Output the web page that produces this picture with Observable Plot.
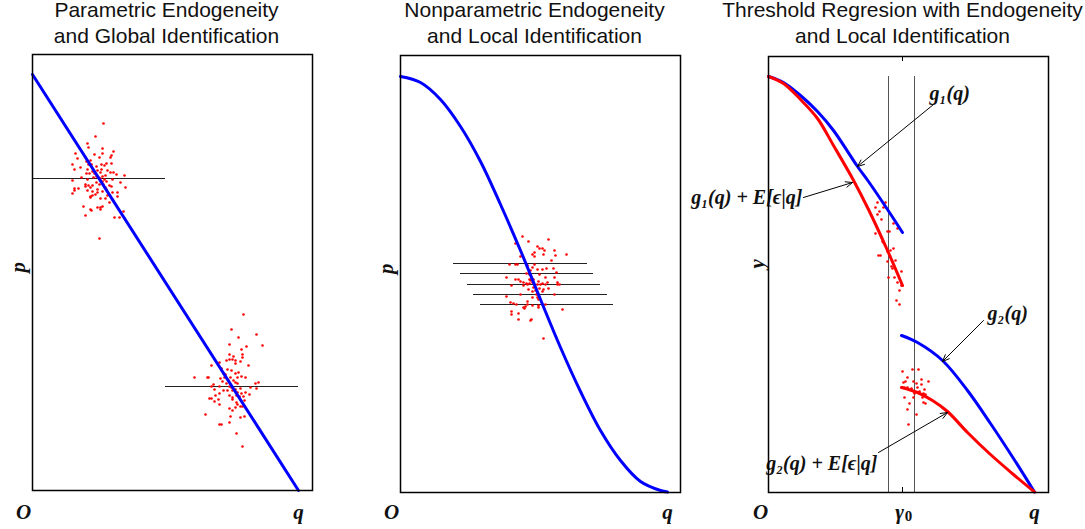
<!DOCTYPE html>
<html><head><meta charset="utf-8">
<script src="https://cdn.jsdelivr.net/npm/d3@7"></script>
<script src="https://cdn.jsdelivr.net/npm/@observablehq/plot@0.6"></script>
<style>
body{margin:0;background:#fff;}
#wrap{display:flex;width:1085px;height:529px;}
#wrap svg{flex:none;}
</style></head><body><div id="wrap"></div>
<script>
// ---------- titles ----------
const titles = [
  "Parametric Endogeneity\nand Global Identification",
  "Nonparametric Endogeneity\nand Local Identification",
  "Threshold Regresion with Endogeneity\nand Local Identification"
];
const yLabels = ["p", "p", "y"];

// ---------- panel 1 ----------
const p1LineQ = [0, 26.6];
const p1LineP = [41.6, 0];
const p1Rules = [{p: 31.2, q1: 0, q2: 13.3}, {p: 10.4, q1: 13.3, q2: 26.6}];
const p1Cluster1 = [[7.1,36.7],[6.3,35.4],[5.5,34.7],[5.6,34.3],[7.0,34.2],[4.3,33.7],[8.1,33.9],[6.2,33.6],[7.0,33.7],[7.9,33.5],[5.3,33.3],[4.5,33.2],[6.7,33.3],[5.4,32.9],[5.8,33.0],[7.8,33.3],[4.0,32.6],[5.6,32.6],[5.9,32.6],[6.9,32.6],[7.4,32.7],[7.9,32.7],[6.4,32.4],[4.8,32.3],[4.2,32.1],[5.5,32.1],[6.9,32.1],[7.2,32.5],[6.0,31.9],[6.5,32.0],[7.5,32.0],[5.4,31.7],[5.7,31.7],[6.2,31.7],[6.8,31.8],[7.8,31.8],[8.1,31.8],[8.4,31.6],[9.2,31.5],[4.9,31.3],[6.1,31.3],[6.4,31.4],[7.0,31.4],[7.3,31.5],[5.5,31.1],[6.6,31.3],[6.8,31.2],[7.2,31.1],[8.0,31.1],[4.0,31.0],[6.4,30.8],[7.0,30.9],[7.4,30.9],[8.8,30.8],[5.3,30.6],[5.6,30.5],[6.0,30.5],[6.7,30.6],[7.1,30.6],[7.7,30.5],[5.3,30.4],[5.8,30.3],[7.3,30.3],[7.9,30.4],[9.3,30.3],[4.2,30.2],[4.6,30.2],[6.5,30.1],[7.4,30.1],[4.2,30.0],[5.5,30.0],[6.0,29.9],[6.5,29.8],[7.0,29.9],[8.0,29.8],[8.5,29.8],[4.0,29.7],[6.0,29.5],[6.3,29.6],[5.8,29.4],[5.8,29.3],[7.5,29.5],[8.5,29.4],[6.8,29.2],[7.3,29.2],[8.0,29.1],[7.7,28.8],[5.1,28.4],[6.5,28.3],[6.8,28.3],[7.0,28.4],[5.8,28.1],[5.9,28.0],[6.8,28.1],[9.1,27.9],[5.3,27.5],[8.2,27.3],[8.7,27.3],[6.7,25.2]];
const p1Cluster2 = [[21.1,17.6],[19.9,16.1],[22.4,15.6],[20.6,15.3],[19.7,14.6],[21.4,14.4],[23.0,14.5],[20.9,14.1],[19.7,13.6],[20.1,13.4],[21.0,13.6],[21.0,13.3],[19.4,13.0],[19.7,13.1],[20.0,13.1],[20.3,13.0],[20.8,12.9],[18.7,12.8],[20.3,12.7],[21.6,12.5],[17.9,12.5],[18.9,12.2],[19.5,12.1],[19.9,12.0],[20.6,11.8],[20.3,11.7],[19.1,11.7],[19.3,11.6],[16.2,11.3],[17.5,11.3],[17.6,11.3],[18.8,11.2],[19.2,11.3],[19.8,11.3],[20.5,11.3],[20.9,11.4],[21.3,11.3],[19.6,11.0],[19.0,10.9],[18.1,10.6],[19.4,10.7],[20.3,10.8],[20.5,10.7],[20.1,11.0],[22.3,10.7],[22.6,10.8],[17.9,10.4],[18.7,10.4],[19.7,10.4],[19.9,10.3],[20.3,10.1],[20.8,10.2],[21.8,10.3],[22.4,10.2],[18.2,10.1],[19.1,10.0],[19.5,10.0],[20.0,10.0],[20.5,9.8],[21.3,9.8],[18.7,9.7],[20.9,9.7],[20.4,9.5],[21.7,9.6],[18.3,9.5],[19.7,9.5],[20.0,9.3],[20.7,9.4],[21.1,9.4],[17.7,9.2],[17.9,9.2],[18.6,9.1],[20.0,9.1],[20.4,8.8],[21.2,9.0],[18.2,8.9],[18.7,8.6],[20.5,8.6],[20.8,8.4],[21.0,8.4],[20.3,8.3],[19.7,8.2],[20.0,8.0],[17.3,7.6],[19.8,7.4],[20.8,7.3],[21.2,7.4],[19.7,6.8],[18.7,6.6],[18.9,6.6],[20.4,5.7],[21.0,4.4]];

// ---------- panel 2 ----------
const p2CurveQ = [0, 2, 4, 6, 8, 10, 12, 14, 16, 18, 20, 22, 24, 26, 26.7];
const p2CurveP = [41.6, 41.0, 39.3, 36.6, 33.1, 28.8, 24.2, 19.3, 14.5, 10.1, 6.2, 3.2, 1.1, 0.2, 0.05];
const p2Rules = [{p: 22.9, q1: 5.3, q2: 18.7}, {p: 21.9, q1: 6.0, q2: 19.3}, {p: 20.8, q1: 6.7, q2: 20.0}, {p: 19.8, q1: 7.3, q2: 20.7}, {p: 18.8, q1: 8.0, q2: 21.3}];
const p2Cluster = [[12.2,25.6],[14.8,25.3],[12.8,25.1],[11.5,24.9],[13.7,24.6],[13.9,24.4],[14.2,24.4],[14.4,24.2],[15.4,24.2],[13.4,24.0],[13.2,23.8],[14.3,23.8],[15.5,23.7],[16.6,23.8],[12.0,23.6],[13.4,23.6],[15.1,23.2],[10.9,22.8],[11.5,22.8],[11.7,22.8],[13.4,22.8],[12.7,22.7],[13.2,22.5],[15.3,22.4],[13.0,22.2],[13.7,22.3],[14.2,22.3],[14.6,22.4],[15.6,22.0],[12.6,21.9],[12.9,21.8],[13.9,21.8],[13.1,21.5],[10.6,21.5],[14.5,21.5],[15.4,21.5],[11.5,21.3],[11.8,21.3],[12.9,21.3],[13.0,21.2],[13.3,21.3],[12.0,21.1],[12.3,21.0],[12.6,20.9],[12.9,20.9],[13.2,21.0],[13.8,21.1],[14.2,20.9],[14.7,21.0],[15.7,21.0],[11.1,20.7],[12.3,20.7],[12.7,20.8],[13.4,20.8],[13.7,20.8],[14.0,20.8],[14.5,20.8],[15.7,20.8],[15.9,20.8],[13.3,20.5],[13.9,20.4],[14.3,20.3],[14.8,20.4],[12.8,20.3],[13.5,20.2],[13.2,20.1],[14.2,20.1],[12.0,19.8],[13.6,19.8],[15.4,19.8],[13.7,19.5],[10.6,19.6],[13.2,19.5],[13.8,19.3],[12.7,19.1],[11.0,19.0],[11.3,18.9],[11.6,18.8],[12.7,18.8],[13.2,18.7],[13.8,18.7],[14.2,18.8],[14.5,18.8],[12.5,18.6],[12.4,18.4],[13.8,18.5],[16.2,18.3],[11.1,18.1],[11.1,17.8],[11.8,17.9],[12.3,18.5],[11.8,17.3],[13.0,17.2],[13.1,17.3],[14.3,15.4]];

// ---------- panel 3 ----------
const p3Thresholds = [12.0, 14.6];
const p3Gamma0 = 13.4;
const g1Q = [0, 1.5, 3.2, 4.9, 6.5, 8.9, 10.0, 11.9, 13.4];
const g1Y = [41.6, 41.0, 39.7, 38.1, 36.2, 32.6, 31.1, 28.3, 26.0];
const g1eQ = [0, 1.5, 3.2, 4.9, 6.5, 8.4, 10.0, 11.9, 13.4];
const g1eY = [41.6, 40.9, 39.3, 37.4, 34.7, 31.4, 28.3, 24.2, 20.7];
const g2Q = [13.3, 14.9, 17.4, 19.9, 22.2, 24.5, 26.6];
const g2Y = [15.7, 15.0, 13.2, 10.2, 6.9, 3.4, 0.05];
const g2eQ = [13.3, 14.9, 16.4, 17.9, 19.9, 22.2, 24.5, 26.6];
const g2eY = [10.5, 10.0, 9.2, 8.1, 6.0, 3.8, 1.8, 0.05];
const p3ClusterUp = [[10.9,29.0],[11.7,29.0],[10.7,28.5],[11.5,28.5],[11.1,28.1],[10.9,27.8],[11.3,27.3],[12.5,26.9],[12.9,26.4],[11.9,26.1],[12.1,26.1],[10.7,25.9],[11.3,25.5],[11.5,25.0],[11.4,25.1],[12.5,24.4],[11.9,24.1],[12.2,24.2],[11.0,23.7],[11.2,23.7],[11.9,23.1],[12.7,23.2],[12.3,22.6],[12.4,22.4],[13.3,22.1],[12.0,21.5],[12.6,21.5],[12.9,21.0],[13.3,20.7],[13.1,20.2],[12.8,19.2],[13.1,18.8]];
const p3ClusterLow = [[13.4,12.1],[14.4,12.3],[15.0,12.3],[13.9,11.5],[13.5,11.0],[13.7,11.1],[14.5,11.1],[15.3,11.3],[16.0,11.1],[14.8,10.9],[13.4,10.5],[13.6,10.5],[13.9,10.5],[14.3,10.4],[14.9,10.5],[15.3,10.8],[15.6,10.3],[14.5,10.1],[14.6,9.9],[15.1,10.1],[15.5,9.9],[15.7,9.8],[13.6,9.5],[14.5,9.5],[15.4,9.5],[15.5,9.0],[15.7,8.9],[14.1,8.9],[13.9,8.3],[14.8,7.8],[14.0,6.8]];
const p3LabelsStart = [
  {text: "g\u2081(q)", q: 16.1, y: 39.9},
  {text: "g\u2082(q)", q: 21.9, y: 17.9}
];
const p3LabelsEnd = [
  {text: "g\u2081(q) + E[\u03f5|q]", q: 3.4, y: 29.5},
  {text: "g\u2082(q) + E[\u03f5|q]", q: 10.9, y: 2.9}
];
const p3Arrows = [
  {q1: 16.5, y1: 38.8, q2: 8.9, y2: 32.6},
  {q1: 3.5, y1: 29.5, q2: 8.4, y2: 31.0},
  {q1: 21.5, y1: 17.2, q2: 17.4, y2: 13.1},
  {q1: 11.0, y1: 4.0, q2: 17.9, y2: 8.0}
];

// ---------- helpers ----------
const zip = (a, b) => a.map((v, i) => ({q: v, y: b[i]}));
const pts = arr => arr.map(([q, y]) => ({q, y}));
const MATH = "'Liberation Serif', 'DejaVu Serif', serif";
const SANS = "'Liberation Sans', Arial, sans-serif";
const BLUE = "#0000ff", RED = "#ff0000";
const mathStyle = {fontFamily: MATH, fontStyle: "italic", fontWeight: "bold", fill: "#111"};

function common(i, bottomLabels) {
  return [
    Plot.text([titles[i]], {text: d => d, frameAnchor: "top", dx: -6, dy: -12 - i, lineAnchor: "bottom",
      lineHeight: 1.2, fontSize: 21, fontFamily: SANS, fill: "#111"}),
    Plot.text(bottomLabels, {x: "q", text: "t", frameAnchor: "bottom", dy: i === 0 ? 22 : 20, lineAnchor: "middle",
      fontSize: 21, ...mathStyle}),
    Plot.text([yLabels[i]], {text: d => d, frameAnchor: "left", dx: i === 2 ? -11 : -14, dy: i === 2 ? -6 : 0, rotate: -90,
      fontSize: 21, ...mathStyle}),
    Plot.frame({stroke: "#000", strokeWidth: 1.5})
  ];
}

function panel(w, mt, mb, ytop, marks) {
  return Plot.plot({
    width: w, height: 529,
    marginLeft: 32, marginRight: w - 312, marginTop: mt, marginBottom: mb,
    x: {domain: [0, 28], axis: null},
    y: {domain: [0, ytop], axis: null},
    style: {overflow: "visible", background: "transparent"},
    marks
  });
}

const dotOpts = {x: "q", y: "y", r: 1.3, fill: RED, stroke: null};

const plot1 = panel(368, 54, 39, 43.6, [
  Plot.ruleY(p1Rules, {y: "p", x1: "q1", x2: "q2", stroke: "#222", strokeWidth: 1}),
  Plot.dot(pts(p1Cluster1), dotOpts),
  Plot.dot(pts(p1Cluster2), dotOpts),
  Plot.line(zip(p1LineQ, p1LineP), {x: "q", y: "y", stroke: BLUE, strokeWidth: 3}),
  ...common(0, [{q: -0.9, t: "O"}, {q: 26.6, t: "q"}])
]);

const plot2 = panel(368, 55, 37, 43.7, [
  Plot.ruleY(p2Rules, {y: "p", x1: "q1", x2: "q2", stroke: "#222", strokeWidth: 1}),
  Plot.dot(pts(p2Cluster), dotOpts),
  Plot.line(zip(p2CurveQ, p2CurveP), {x: "q", y: "y", stroke: BLUE, strokeWidth: 3, curve: "catmull-rom"}),
  ...common(1, [{q: -0.9, t: "O"}, {q: 26.7, t: "q"}])
]);

const plot3 = panel(349, 56, 37, 43.6, [
  Plot.ruleX(p3Thresholds, {x: d => d, y1: 0, y2: 41.6, stroke: "#555", strokeWidth: 1}),
  Plot.ruleX([p3Gamma0], {x: d => d, y1: 0, y2: 0.5, stroke: "#000", strokeWidth: 1}),
  Plot.ruleX([p3Gamma0], {x: d => d, y1: 43.1, y2: 43.6, stroke: "#000", strokeWidth: 1}),
  Plot.dot(pts(p3ClusterUp), dotOpts),
  Plot.dot(pts(p3ClusterLow), dotOpts),
  Plot.line(zip(g1Q, g1Y), {x: "q", y: "y", stroke: BLUE, strokeWidth: 3, curve: "catmull-rom"}),
  Plot.line(zip(g2Q, g2Y), {x: "q", y: "y", stroke: BLUE, strokeWidth: 3, curve: "catmull-rom"}),
  Plot.line(zip(g1eQ, g1eY), {x: "q", y: "y", stroke: RED, strokeWidth: 3, curve: "catmull-rom"}),
  Plot.line(zip(g2eQ, g2eY), {x: "q", y: "y", stroke: RED, strokeWidth: 3, curve: "catmull-rom"}),
  Plot.arrow(p3Arrows, {x1: "q1", y1: "y1", x2: "q2", y2: "y2", stroke: "#000", strokeWidth: 1, headLength: 11, headAngle: 45}),
  Plot.text(p3LabelsStart, {x: "q", y: "y", text: "text", textAnchor: "start", fontSize: 20, ...mathStyle}),
  Plot.text(p3LabelsEnd, {x: "q", y: "y", text: "text", textAnchor: "end", fontSize: 20, ...mathStyle}),
  ...common(2, [{q: -0.8, t: "O"}, {q: 26.6, t: "q"}]),
  // gamma_0 label: gamma plus a lowered upright subscript 0
  Plot.text([p3Gamma0], {x: d => d, text: () => "\u03b3", frameAnchor: "bottom", dy: 20, dx: -3, lineAnchor: "middle",
    fontSize: 21, ...mathStyle}),
  Plot.text([p3Gamma0], {x: d => d, text: () => "0", frameAnchor: "bottom", dy: 24, dx: 6, lineAnchor: "middle",
    fontSize: 15, fontFamily: MATH, fontWeight: "bold", fill: "#111"})
]);

const wrap = document.getElementById("wrap");
wrap.append(plot1, plot2, plot3);
</script>
</body></html>
